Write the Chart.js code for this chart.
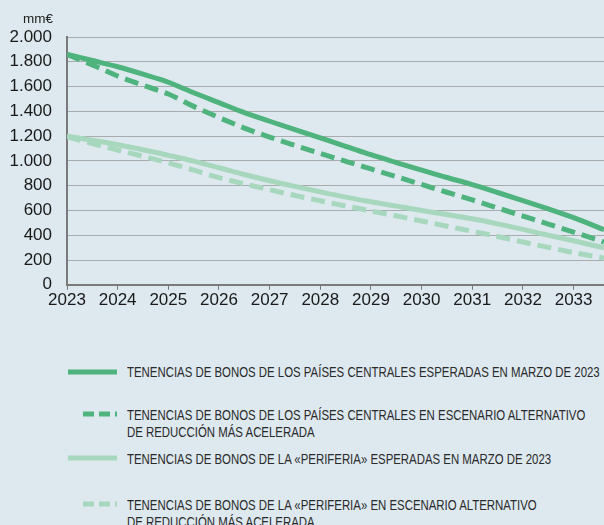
<!DOCTYPE html>
<html>
<head>
<meta charset="utf-8">
<script src="https://cdn.jsdelivr.net/npm/chart.js@4"></script>
<style>
  html, body { margin: 0; padding: 0; background: #dde8ef; }
  body { width: 604px; height: 525px; position: relative; overflow: hidden; font-family: "Liberation Sans", Arial, sans-serif; }
  #wrap { position: absolute; left: 0; top: 0; width: 604px; height: 310px; }
  #unit { position: absolute; left: 23px; top: 11px; font-size: 13.5px; color: #222; }
  .leg { position: absolute; left: 0; width: 604px; }
  .leg canvas { position: absolute; left: 60px; }
  .leg .txt { position: absolute; left: 127px; font-family: "Liberation Sans", Arial, sans-serif; font-size: 15px; line-height: 17px; color: #2a2a2a; white-space: nowrap; transform-origin: 0 0; }
</style>
</head>
<body>
<div id="wrap"><canvas id="chart"></canvas></div>
<div id="unit">mm€</div>
<div id="legend"></div>
<script>
// x positions (years)
const years = [2023, 2023.5, 2024, 2024.5, 2025, 2025.5, 2026, 2026.5, 2027, 2027.5, 2028, 2028.5,
               2029, 2029.5, 2030, 2030.5, 2031, 2031.5, 2032, 2032.5, 2033, 2033.6];

// series (mm€)
const centralExpected = [1860, 1810, 1760, 1700, 1635, 1550, 1470, 1390, 1320, 1252, 1185, 1118,
                         1050, 987, 925, 866, 808, 745, 680, 612, 542, 445];
const centralAlt = [1860, 1775, 1685, 1610, 1540, 1440, 1350, 1265, 1192, 1125, 1060, 997,
                    935, 873, 810, 747, 685, 620, 555, 490, 425, 345];
const peripheryExpected = [1200, 1166, 1130, 1090, 1045, 998, 945, 890, 840, 794, 750, 708,
                           670, 635, 600, 567, 533, 492, 447, 400, 355, 298];
const peripheryAlt = [1195, 1140, 1088, 1037, 985, 925, 865, 815, 767, 721, 678, 636,
                      596, 556, 515, 473, 432, 390, 345, 302, 260, 215];

const yTicks = [0, 200, 400, 600, 800, 1000, 1200, 1400, 1600, 1800, 2000];

const seriesNames = [
    'TENENCIAS DE BONOS DE LOS PAÍSES CENTRALES ESPERADAS EN MARZO DE 2023',
    'TENENCIAS DE BONOS DE LOS PAÍSES CENTRALES EN ESCENARIO ALTERNATIVO\nDE REDUCCIÓN MÁS ACELERADA',
    'TENENCIAS DE BONOS DE LA «PERIFERIA» ESPERADAS EN MARZO DE 2023',
    'TENENCIAS DE BONOS DE LA «PERIFERIA» EN ESCENARIO ALTERNATIVO\nDE REDUCCIÓN MÁS ACELERADA'
];

const darkGreen = '#4fb37e';
const lightGreen = '#a7d8bd';
const dash = [14, 7];

function pts(values) {
    return years.map((x, i) => ({ x: x, y: values[i] }));
}

const styles = [
    { color: darkGreen, dash: [] },
    { color: darkGreen, dash: dash },
    { color: lightGreen, dash: [] },
    { color: lightGreen, dash: dash }
];
const allSeries = [centralExpected, centralAlt, peripheryExpected, peripheryAlt];

const fmt = v => v >= 1000 ? Math.floor(v / 1000) + '.' + String(v % 1000).padStart(3, '0') : String(v);

new Chart(document.getElementById('chart'), {
    type: 'line',
    data: {
        datasets: allSeries.map((s, i) => ({
            label: seriesNames[i],
            data: pts(s),
            borderColor: styles[i].color,
            borderDash: styles[i].dash,
            borderWidth: 5,
            pointRadius: 0,
            cubicInterpolationMode: 'monotone',
            fill: false
        }))
    },
    options: {
        responsive: true,
        maintainAspectRatio: false,
        animation: false,
        layout: { padding: { top: 37, right: 0, left: 0, bottom: 0 } },
        plugins: { legend: { display: false }, tooltip: { enabled: false } },
        scales: {
            x: {
                type: 'linear',
                min: 2023,
                max: 2033.6,
                afterBuildTicks: axis => {
                    axis.ticks = years.filter(y => Number.isInteger(y)).map(v => ({ value: v }));
                },
                afterFit: axis => { axis.height = 25; },
                ticks: {
                    callback: v => String(v),
                    color: '#1a1a1a',
                    font: { family: 'Liberation Sans', size: 17 },
                    padding: 0,
                    maxRotation: 0,
                    autoSkip: false
                },
                grid: { drawOnChartArea: false, drawTicks: true, tickLength: 5, color: '#7a7a7a', lineWidth: 1 },
                border: { color: '#7a7a7a', width: 2 }
            },
            y: {
                min: 0,
                max: 2000,
                afterBuildTicks: axis => { axis.ticks = yTicks.map(v => ({ value: v })); },
                afterFit: axis => { axis.width = 67; },
                ticks: {
                    callback: v => fmt(v),
                    color: '#1a1a1a',
                    font: { family: 'Liberation Sans', size: 17 },
                    padding: 15
                },
                grid: { drawTicks: false, color: '#a9acae', lineWidth: 1 },
                border: { color: '#7a7a7a', width: 2 }
            }
        }
    }
});

// legend below the chart
const legendRows = [
    { top: 363, line: 372 },
    { top: 406, line: 414 },
    { top: 450, line: 458 },
    { top: 496, line: 504 }
];
const legend = document.getElementById('legend');
const texts = [];
seriesNames.forEach((name, i) => {
    const row = document.createElement('div');
    row.className = 'leg';
    row.style.top = legendRows[i].top + 'px';
    const c = document.createElement('canvas');
    c.width = 60; c.height = 16;
    c.style.top = (legendRows[i].line - legendRows[i].top - 8) + 'px';
    const ctx = c.getContext('2d');
    ctx.strokeStyle = styles[i].color;
    ctx.lineWidth = 5;
    ctx.setLineDash(styles[i].dash.length ? [11, 5] : []);
    ctx.beginPath();
    ctx.moveTo(styles[i].dash.length ? 23 : 8, 8);
    ctx.lineTo(57, 8);
    ctx.stroke();
    row.appendChild(c);
    const t = document.createElement('div');
    t.className = 'txt';
    t.style.top = '0px';
    t.innerHTML = name.replace('\n', '<br>');
    row.appendChild(t);
    legend.appendChild(row);
    texts.push(t);
});
// condensed look: first row text spans 473px in the reference
const squeeze = 473 / texts[0].offsetWidth;
texts.forEach(t => { t.style.transform = 'scaleX(' + squeeze + ')'; });
</script>
</body>
</html>
